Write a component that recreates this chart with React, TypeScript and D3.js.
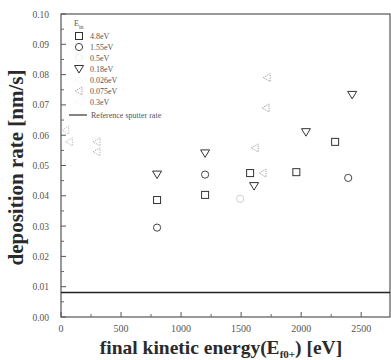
import React from 'react';
import * as d3 from 'd3';

// energy (eV) / deposition rate (nm/s)
const sq48X = [800, 1200, 1575, 1960, 2283];
const sq48Y = [0.0386, 0.0403, 0.0475, 0.0478, 0.0578];
const ci155X = [800, 1200, 2392];
const ci155Y = [0.0295, 0.047, 0.0459];
const ci05X = [1492];
const ci05Y = [0.039];
const tr018X = [800, 1200, 1608, 2040, 2425];
const tr018Y = [0.047, 0.054, 0.0432, 0.061, 0.0733];
const lt0026X = [40, 70];
const lt0026Y = [0.0617, 0.0578];
const lt0075X = [1617, 1683, 1708, 1717];
const lt0075Y = [0.0558, 0.0475, 0.069, 0.079];
const lt03X = [300, 300];
const lt03Y = [0.0578, 0.0545];
const refRate = 0.0081;

const legendLabels = ['4.8eV', '1.55eV', '0.5eV', '0.18eV', '0.026eV', '0.075eV', '0.3eV'];
const xTicks = [0, 500, 1000, 1500, 2000, 2500];
const yTicks = [0, 0.01, 0.02, 0.03, 0.04, 0.05, 0.06, 0.07, 0.08, 0.09, 0.1];

const WIDTH = 391;
const HEIGHT = 360;
const margin = { top: 14, right: 1, bottom: 43, left: 61 };

function Marker(props: { kind: string; x: number; y: number; color: string }) {
  const { kind, x, y, color } = props;
  if (kind === 'square') {
    return <rect x={x - 3.5} y={y - 3.5} width={7} height={7} fill="none" stroke={color} strokeWidth={1} />;
  }
  if (kind === 'circle') {
    return <circle cx={x} cy={y} r={3.6} fill="none" stroke={color} strokeWidth={1} />;
  }
  if (kind === 'down') {
    return (
      <path d={`M${x - 4.5},${y - 3.5}L${x + 4.5},${y - 3.5}L${x},${y + 4}Z`} fill="none" stroke={color} strokeWidth={1} />
    );
  }
  // faint left triangle
  return (
    <path
      d={`M${x - 4},${y}L${x + 3},${y - 4}L${x + 3},${y + 4}Z`}
      fill="none"
      stroke={color}
      strokeWidth={1}
      strokeDasharray="1.2,1.2"
    />
  );
}

export default function App() {
  const chartW = WIDTH - margin.left - margin.right;
  const chartH = HEIGHT - margin.top - margin.bottom;

  const xScale = d3.scaleLinear().domain([0, 2740]).range([margin.left, margin.left + chartW]);
  const yScale = d3.scaleLinear().domain([0, 0.1]).range([margin.top + chartH, margin.top]);

  const series = [
    { label: legendLabels[0], kind: 'square', color: '#333', xs: sq48X, ys: sq48Y },
    { label: legendLabels[1], kind: 'circle', color: '#444', xs: ci155X, ys: ci155Y },
    { label: legendLabels[2], kind: 'circle', color: '#cfcfcf', xs: ci05X, ys: ci05Y },
    { label: legendLabels[3], kind: 'down', color: '#333', xs: tr018X, ys: tr018Y },
    { label: legendLabels[4], kind: 'left', color: '#bbb', xs: lt0026X, ys: lt0026Y },
    { label: legendLabels[5], kind: 'left', color: '#999', xs: lt0075X, ys: lt0075Y },
    { label: legendLabels[6], kind: 'left', color: '#aaa', xs: lt03X, ys: lt03Y }
  ];
  const legendSymbolColor = ['#333', '#444', '#eee', '#333', '#f2f2f2', '#999', '#f2f2f2'];

  const minorX = d3.range(250, 2740, 500);
  const minorY = d3.range(0.005, 0.1, 0.01);
  const bottom = margin.top + chartH;
  const font = '"Liberation Serif", "DejaVu Serif", serif';

  return (
    <svg
      width={WIDTH}
      height={HEIGHT}
      viewBox={`0 0 ${WIDTH} ${HEIGHT}`}
      style={{ position: 'absolute', left: 0, top: 0, background: '#fff' }}
    >
      {/* frame */}
      <rect x={margin.left} y={margin.top} width={chartW} height={chartH} fill="none" stroke="#555" strokeWidth={1.2} />

      {/* x ticks */}
      {xTicks.map(t => (
        <g key={'x' + t}>
          <line x1={xScale(t)} x2={xScale(t)} y1={bottom} y2={bottom - 5} stroke="#555" />
          <text x={xScale(t)} y={bottom + 15} fontSize={10} fill="#555" textAnchor="middle" fontFamily={font}>
            {t}
          </text>
        </g>
      ))}
      {minorX.map(t => (
        <line key={'mx' + t} x1={xScale(t)} x2={xScale(t)} y1={bottom} y2={bottom - 3} stroke="#666" />
      ))}

      {/* y ticks */}
      {yTicks.map(t => (
        <g key={'y' + t}>
          <line x1={margin.left} x2={margin.left + 5} y1={yScale(t)} y2={yScale(t)} stroke="#555" />
          <text
            x={margin.left - 12}
            y={yScale(t) + 3.5}
            fontSize={9.5}
            fill="#555"
            textAnchor="end"
            fontFamily={font}
          >
            {t.toFixed(2)}
          </text>
        </g>
      ))}
      {minorY.map(t => (
        <line key={'my' + t} x1={margin.left} x2={margin.left + 3} y1={yScale(t)} y2={yScale(t)} stroke="#666" />
      ))}

      {/* reference sputter rate */}
      <line
        x1={margin.left}
        x2={margin.left + chartW}
        y1={yScale(refRate)}
        y2={yScale(refRate)}
        stroke="#222"
        strokeWidth={1.4}
      />

      {/* data */}
      {series.map((s, si) =>
        s.xs.map((v, i) => (
          <Marker key={si + '-' + i} kind={s.kind} x={xScale(v)} y={yScale(s.ys[i])} color={s.color} />
        ))
      )}

      {/* legend */}
      <g fontFamily={font} fill="#555" fontSize={8}>
        <text x={74} y={26}>
          E<tspan fontSize={6} dy={3}>in</tspan>
        </text>
        {series.map((s, i) => {
          const y = 36 + i * 11;
          return (
            <g key={'lg' + i}>
              <Marker kind={s.kind} x={79} y={y} color={legendSymbolColor[i]} />
              <text x={90} y={y + 3}>
                {s.label}
              </text>
            </g>
          );
        })}
        <line x1={69} x2={87} y1={115} y2={115} stroke="#333" strokeWidth={1.2} />
        <text x={91} y={118}>
          Reference sputter rate
        </text>
      </g>

      {/* axis titles */}
      <text
        transform={`translate(23,${margin.top + chartH / 2 + 2}) rotate(-90)`}
        textAnchor="middle"
        fontFamily={font}
        fontWeight="bold"
        fontSize={21}
        fill="#2a2a2a"
      >
        deposition rate [nm/s]
      </text>
      <text x={221} y={354} textAnchor="middle" fontFamily={font} fontWeight="bold" fontSize={19.5} fill="#2a2a2a">
        final kinetic energy(E<tspan fontSize={11} dy={4}>f0+</tspan>
        <tspan dy={-4}>) [eV]</tspan>
      </text>
    </svg>
  );
}
